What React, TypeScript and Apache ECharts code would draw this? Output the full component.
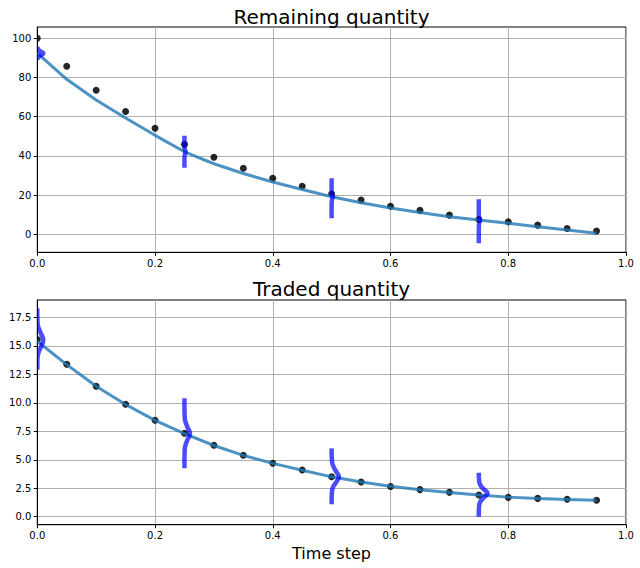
import React, { useEffect, useRef } from "react";
import * as echarts from "echarts";

const TIMES = [0, 0.05, 0.1, 0.15, 0.2, 0.25, 0.3, 0.35, 0.4, 0.45, 0.5, 0.55, 0.6, 0.65, 0.7, 0.75, 0.8, 0.85, 0.9, 0.95];

const REMAINING_OBSERVED = [100, 85.7, 73.5, 62.7, 54.1, 45.9, 39.3, 33.7, 28.6, 24.5, 20.6, 17.5, 14.3, 12.2, 9.8, 7.6, 6.4, 4.7, 3.0, 1.7];
const REMAINING_FIT = [92.5, 79.1, 68.5, 59.3, 50.5, 42.1, 36.0, 31.0, 26.7, 22.9, 19.2, 16.1, 13.4, 11.1, 9.0, 7.3, 5.6, 3.9, 2.2, 0.5];

const TRADED_OBSERVED = [15.55, 13.38, 11.45, 9.87, 8.46, 7.32, 6.27, 5.39, 4.69, 4.1, 3.51, 3.05, 2.65, 2.38, 2.14, 1.9, 1.7, 1.61, 1.53, 1.44];
const TRADED_FIT = [15.4, 13.35, 11.45, 9.85, 8.45, 7.3, 6.25, 5.38, 4.68, 4.08, 3.5, 3.05, 2.67, 2.37, 2.13, 1.9, 1.72, 1.6, 1.52, 1.44];

const X_TICKS = [0, 0.2, 0.4, 0.6, 0.8, 1.0];
const REMAINING_Y_TICKS = [0, 20, 40, 60, 80, 100];
const TRADED_Y_TICKS = [0, 2.5, 5, 7.5, 10, 12.5, 15, 17.5];

// distribution shapes: time step, value levels, horizontal density offsets
const DENSITY_TIMES = [0, 0.25, 0.5, 0.75];

const REMAINING_DENSITY_Y = [
  [95.7, 94.5, 93.6, 92.9, 92.3, 91.7, 91.0, 90.1, 88.9],
  [50.3, 45.0, 43.5, 42.5, 42.0, 41.5, 40.5, 39.0, 34.0],
  [28.6, 22.0, 20.5, 19.5, 19.0, 18.5, 17.5, 16.0, 8.2],
  [17.9, 10.0, 8.5, 7.5, 7.0, 6.5, 5.5, 4.0, -4.6],
];
const REMAINING_DENSITY_W = [
  [0, 0.001, 0.004, 0.008, 0.0102, 0.008, 0.004, 0.001, 0],
  [0, 0, 0.0005, 0.0015, 0.002, 0.0015, 0.0005, 0, 0],
  [0, 0, 0.0005, 0.0015, 0.002, 0.0015, 0.0005, 0, 0],
  [0, 0, 0.0005, 0.0015, 0.002, 0.0015, 0.0005, 0, 0],
];

const TRADED_DENSITY_Y = [
  [18.3, 17.0, 16.6, 16.1, 15.5, 14.9, 14.4, 14.0, 12.9],
  [10.4, 8.7, 8.3, 7.8, 7.3, 6.8, 6.3, 5.9, 4.25],
  [6.0, 4.9, 4.5, 4.0, 3.5, 3.0, 2.6, 2.2, 1.1],
  [3.86, 3.1, 2.75, 2.4, 2.05, 1.7, 1.35, 1.0, 0.0],
];
const TRADED_DENSITY_W = [
  [0, 0.0005, 0.002, 0.006, 0.0102, 0.006, 0.002, 0.0005, 0],
  [0, 0.0004, 0.0018, 0.0055, 0.0094, 0.0055, 0.0018, 0.0004, 0],
  [0, 0.0005, 0.0023, 0.0072, 0.0124, 0.0072, 0.0023, 0.0005, 0],
  [0, 0.0006, 0.0028, 0.0087, 0.015, 0.0087, 0.0028, 0.0006, 0],
];

const FONT = "DejaVu Sans";

function buildOption() {
  const xAxisBase = (gridIndex: number) => ({
    type: "value",
    gridIndex,
    min: X_TICKS[0],
    max: X_TICKS[X_TICKS.length - 1],
    interval: 0.2,
    axisLine: { show: true, onZero: false, lineStyle: { color: "#000", width: 1 } },
    axisTick: { show: true, length: 3.5, inside: false, lineStyle: { color: "#000", width: 1 } },
    axisLabel: {
      color: "#000",
      fontSize: 10,
      fontFamily: FONT,
      margin: 6,
      formatter: (v: number) => v.toFixed(1),
    },
    splitLine: { show: true, lineStyle: { color: "#b0b0b0", width: 1 } },
  });

  const yAxisBase = (gridIndex: number, min: number, max: number, ticks: number[], fmt: (v: number) => string) => ({
    type: "value",
    gridIndex,
    min,
    max,
    axisLine: { show: true, onZero: false, lineStyle: { color: "#000", width: 1 } },
    axisTick: { show: true, length: 3.5, inside: false, customValues: ticks, lineStyle: { color: "#000", width: 1 } },
    axisLabel: {
      color: "#000",
      fontSize: 10,
      fontFamily: FONT,
      margin: 6,
      customValues: ticks,
      formatter: (v: number) => fmt(v),
    },
    splitLine: { show: true, lineStyle: { color: "#b0b0b0", width: 1 } },
  });

  const clipRect = (params: any) => {
    const cs = params.coordSys;
    return { type: "rect", shape: { x: cs.x, y: cs.y, width: cs.width, height: cs.height } };
  };

  const series: any[] = [];
  const addPanel = (idx: number, obs: number[], fit: number[], dy: number[][], dw: number[][]) => {
    series.push({
      type: "custom",
      xAxisIndex: idx,
      yAxisIndex: idx,
      data: TIMES.map((t, i) => [t, obs[i]]),
      z: 2,
      renderItem: (params: any, api: any) => {
        const p = api.coord([api.value(0), api.value(1)]);
        return {
          type: "circle",
          shape: { cx: p[0], cy: p[1], r: 3.5 },
          style: { fill: "rgba(0,0,0,0.85)" },
          clipPath: clipRect(params),
        };
      },
    });
    series.push({
      type: "line",
      xAxisIndex: idx,
      yAxisIndex: idx,
      data: TIMES.map((t, i) => [t, fit[i]]),
      showSymbol: false,
      symbol: "none",
      lineStyle: { color: "rgba(31,119,180,0.8)", width: 3 },
      z: 3,
    });
    series.push({
      type: "custom",
      xAxisIndex: idx,
      yAxisIndex: idx,
      data: DENSITY_TIMES.map((t, k) => [t, k]),
      z: 4,
      renderItem: (params: any, api: any) => {
        const t = api.value(0);
        const k = api.value(1);
        const pts = dy[k].map((y, j) => api.coord([t + dw[k][j], y]));
        return {
          type: "polyline",
          shape: { points: pts, smooth: 0.4 },
          style: { stroke: "rgba(0,0,255,0.7)", lineWidth: 4.5, fill: null },
          clipPath: clipRect(params),
        };
      },
    });
  };
  addPanel(0, REMAINING_OBSERVED, REMAINING_FIT, REMAINING_DENSITY_Y, REMAINING_DENSITY_W);
  addPanel(1, TRADED_OBSERVED, TRADED_FIT, TRADED_DENSITY_Y, TRADED_DENSITY_W);

  return {
    animation: false,
    backgroundColor: "#fff",
    grid: [
      { left: 37.3, top: 27, width: 588.7, height: 225.3, show: true, borderColor: "#000", borderWidth: 1, backgroundColor: "transparent", containLabel: false },
      { left: 37.3, top: 300, width: 588.7, height: 224.7, show: true, borderColor: "#000", borderWidth: 1, backgroundColor: "transparent", containLabel: false },
    ],
    xAxis: [xAxisBase(0), xAxisBase(1)],
    yAxis: [
      yAxisBase(0, -9.18, 105.77, REMAINING_Y_TICKS, (v) => String(Math.round(v))),
      yAxisBase(1, -0.7, 19.02, TRADED_Y_TICKS, (v) => v.toFixed(1)),
    ],
    graphic: [
      { type: "text", x: 331.5, y: 17, style: { text: "Remaining quantity", fontFamily: FONT, fontSize: 20, fill: "#000", textAlign: "center", textVerticalAlign: "middle" } },
      { type: "text", x: 331.5, y: 289, style: { text: "Traded quantity", fontFamily: FONT, fontSize: 20, fill: "#000", textAlign: "center", textVerticalAlign: "middle" } },
      { type: "text", x: 331.5, y: 553, style: { text: "Time step", fontFamily: FONT, fontSize: 16, fill: "#000", textAlign: "center", textVerticalAlign: "middle" } },
    ],
    series,
  };
}

export default function App() {
  const ref = useRef<HTMLDivElement>(null);
  useEffect(() => {
    document.body.style.margin = "0";
    if (!ref.current) return;
    const chart = echarts.init(ref.current, undefined, { renderer: "svg" });
    chart.setOption(buildOption() as any);
    return () => chart.dispose();
  }, []);
  return <div ref={ref} style={{ width: 640, height: 568 }} />;
}
